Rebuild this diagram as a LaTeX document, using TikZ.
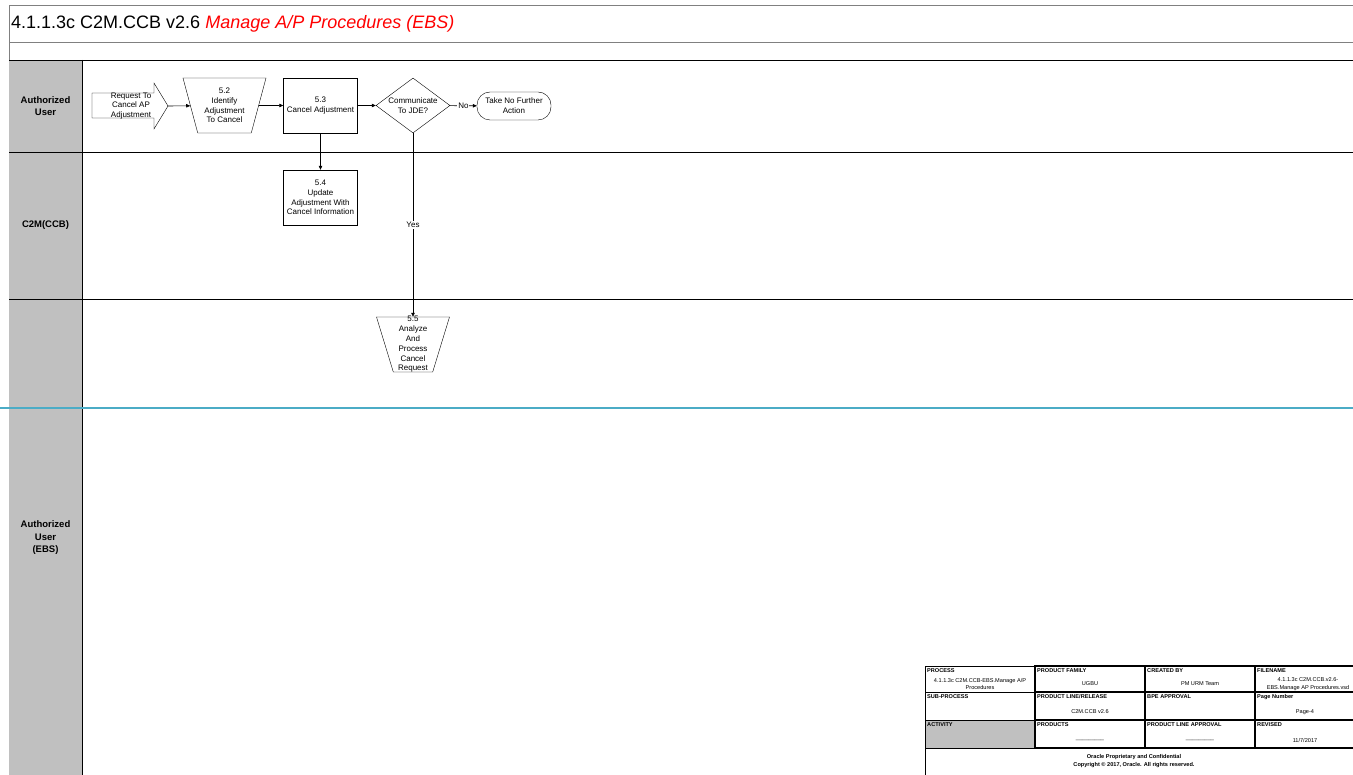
\documentclass[tikz,border=0pt]{standalone}
\usepackage{fontspec}
\setmainfont{Liberation Sans}
\usetikzlibrary{arrows.meta,shapes.geometric}

\definecolor{lanegray}{HTML}{C0C0C0}
\definecolor{phaseline}{HTML}{4BACC6}

\begin{document}
\begin{tikzpicture}[x=1pt, y=-1pt,
    small text/.style={font=\fontsize{8}{9.8}\selectfont, align=center},
    procbox/.style={rectangle, draw, fill=white, thin, minimum width=74pt, minimum height=55pt, inner sep=1pt, small text},
    manual op/.style={trapezium, draw, fill=white, thin, shape border rotate=180, trapezium angle=#1, trapezium stretches body, text height=55pt, text depth=0pt, text width=0pt, inner sep=0pt},
    decision/.style={diamond, draw, fill=white, thin, aspect=1.35, minimum width=74pt, minimum height=55pt, inner sep=0pt, small text},
    terminal/.style={rectangle, rounded corners=13pt, draw, fill=white, thin, minimum width=74pt, minimum height=28pt, inner sep=1pt, small text},
    flow/.style={-{Triangle[length=4pt, width=3.5pt]}, line width=0.6pt},
    flow label/.style={fill=white, inner sep=1pt, small text},
    lane label/.style={font=\fontsize{9.5}{12.5}\selectfont\bfseries, align=center},
    cell label/.style={anchor=north west, inner sep=1pt, font=\fontsize{5.6}{6.5}\selectfont\bfseries},
    cell value/.style={inner sep=0pt, align=center, font=\fontsize{5.6}{7.6}\selectfont}
]
\useasboundingbox (0,0) rectangle (1353,775);
\clip (0,0) rectangle (1353,775);

% Frame and Title
\draw[gray, line width=0.8pt] (9,5) rectangle (1380,42);
\draw[gray, line width=0.8pt] (9,42) -- (9,780);
\node[anchor=base west, inner sep=0pt, font=\fontsize{18}{20}\selectfont] (title) at (11,29)
    {4.1.1.3c C2M.CCB v2.6 \textcolor{red}{\itshape Manage A/P Procedures (EBS)}};

% Lanes
\fill[lanegray] (9,60) rectangle (82,780);
\draw[line width=0.8pt] (9,60) -- (1380,60);
\draw[line width=0.8pt] (82,60) -- (82,780);
\draw[line width=0.8pt] (9,152) -- (1380,152);
\draw[line width=0.8pt] (9,299) -- (1380,299);
\draw[phaseline, line width=1.4pt] (0,408) -- (1380,408);

\node[lane label] (laneA) at (45.5,106) {Authorized\\User};
\node[lane label] (laneB) at (45.5,225) {C2M(CCB)};
\node[lane label] (laneD) at (45.5,538) {Authorized\\User\\(EBS)};

% Request arrow
\draw[thin, fill=white] (92,93) -- (154,93) -- (154,83) -- (168,106) -- (154,129) -- (154,118) -- (92,118) -- cycle;
\node[small text] (req) at (131,106) {Request To\\Cancel AP\\Adjustment};
\coordinate (reqtip) at (168,106);

% Steps
\node[manual op=75, minimum width=83pt, label={[small text]center:{5.2\\Identify\\Adjustment\\To Cancel}}] (n52) at (224.5,105.5) {};
\node[procbox] (n53) at (320.5,105.5) {5.3\\Cancel Adjustment};
\node[decision] (dec) at (413,105.5) {Communicate\\To JDE?};
\node[terminal] (stop) at (514,106) {Take No Further\\Action};
\node[procbox] (n54) at (320.5,197.5) {5.4\\Update\\Adjustment With\\Cancel Information};
\node[manual op=73, minimum width=73pt, label={[small text]center:{5.5\\Analyze\\And\\Process\\Cancel\\Request}}] (n55) at (413,344.5) {};

% Connections
\draw[flow] (reqtip) -- (n52);
\draw[flow] (n52) -- (n53);
\draw[flow] (n53) -- (dec);
\draw[flow] (dec) -- node[flow label] {No} (stop);
\draw[flow] (n53) -- (n54);
\draw[flow] (dec) -- node[flow label] {Yes} (n55);

% Title block
\fill[lanegray] (925,720) rectangle (1035,748);
\draw[line width=0.5pt] (925,666) rectangle (1035,748);
\draw[line width=0.5pt] (925,692) -- (1035,692);
\draw[line width=0.5pt] (925,720) -- (1035,720);
\draw[line width=0.5pt] (925,748) rectangle (1380,785);
\draw[line width=1.1pt] (1035,666) rectangle (1380,748);
\foreach \y in {692,720} {
    \draw[line width=1.1pt] (1035,\y) -- (1380,\y);
}
\foreach \x in {1145,1255} {
    \draw[line width=1.1pt] (\x,666) -- (\x,748);
}

\node[cell label] (lprocess) at (926,667) {PROCESS};
\node[cell label] (lfamily) at (1036,667) {PRODUCT FAMILY};
\node[cell label] (lcreated) at (1146,667) {CREATED BY};
\node[cell label] (lfile) at (1256,667) {FILENAME};
\node[cell label] (lsub) at (926,693) {SUB-PROCESS};
\node[cell label] (lrelease) at (1036,693) {PRODUCT LINE/RELEASE};
\node[cell label] (lbpe) at (1146,693) {BPE APPROVAL};
\node[cell label] (lpage) at (1256,693) {Page Number};
\node[cell label] (lactivity) at (926,721) {ACTIVITY};
\node[cell label] (lproducts) at (1036,721) {PRODUCTS};
\node[cell label] (lapproval) at (1146,721) {PRODUCT LINE APPROVAL};
\node[cell label] (lrevised) at (1256,721) {REVISED};

\node[cell value] (vprocess) at (980,684) {4.1.1.3c C2M.CCB-EBS.Manage A/P\\Procedures};
\node[cell value] (vfamily) at (1090,684) {UGBU};
\node[cell value] (vcreated) at (1200,684) {PM URM Team};
\node[cell value] (vfile) at (1308,684) {4.1.1.3c C2M.CCB.v2.6-\\EBS.Manage AP Procedures.vsd};
\node[cell value] (vrelease) at (1090,712) {C2M.CCB v2.6};
\node[cell value] (vpage) at (1305,712) {Page-4};
\node[cell value] (vproducts) at (1090,740) {\_\_\_\_\_\_\_\_\_};
\node[cell value] (vapproval) at (1200,740) {\_\_\_\_\_\_\_\_\_};
\node[cell value] (vrevised) at (1305,740) {11/7/2017};
\node[cell value, font=\fontsize{5.6}{7.6}\selectfont\bfseries] (copyright) at (1134,761)
    {Oracle Proprietary and Confidential\\Copyright \textcopyright{} 2017, Oracle. All rights reserved.};

\end{tikzpicture}
\end{document}
